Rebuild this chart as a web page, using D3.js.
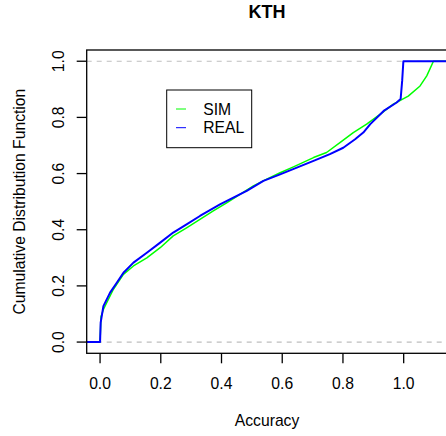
<!DOCTYPE html>
<html>
<head>
<meta charset="utf-8">
<script src="https://cdn.jsdelivr.net/npm/d3@7"></script>
<style>
  body { margin: 0; background: #fff; }
  svg text { font-family: "Liberation Sans", Arial, Helvetica, sans-serif; fill: #000; }
</style>
</head>
<body>
<svg id="chart" width="446" height="436"></svg>
<script>
// ECDF curves (accuracy, cumulative share)
const simX = [0, 0.003, 0.011, 0.044, 0.077, 0.11, 0.154, 0.198, 0.241, 0.285, 0.329, 0.373, 0.417, 0.461, 0.505, 0.549, 0.593, 0.637, 0.703, 0.746, 0.79, 0.834, 0.878, 0.922, 0.966, 1.015, 1.054, 1.076, 1.098];
const simY = [0, 0.09, 0.116, 0.188, 0.241, 0.271, 0.3, 0.336, 0.378, 0.407, 0.437, 0.467, 0.496, 0.526, 0.556, 0.58, 0.603, 0.624, 0.657, 0.675, 0.71, 0.746, 0.776, 0.811, 0.847, 0.876, 0.912, 0.948, 1.0];

const realX = [0, 0.002, 0.011, 0.033, 0.055, 0.077, 0.11, 0.154, 0.198, 0.241, 0.285, 0.329, 0.395, 0.439, 0.483, 0.538, 0.593, 0.648, 0.703, 0.757, 0.801, 0.84, 0.867, 0.89, 0.934, 0.977, 0.99, 0.995, 0.999];
const realY = [0, 0.069, 0.128, 0.176, 0.211, 0.247, 0.283, 0.318, 0.354, 0.39, 0.419, 0.449, 0.49, 0.514, 0.538, 0.574, 0.597, 0.621, 0.645, 0.669, 0.692, 0.722, 0.746, 0.776, 0.823, 0.853, 0.866, 0.93, 1.0];

const xTicks = [0, 0.2, 0.4, 0.6, 0.8, 1.0];
const yTicks = [0, 0.2, 0.4, 0.6, 0.8, 1.0];
const seriesNames = ["SIM", "REAL"];
const seriesColors = ["#00ff00", "#0000ff"];

const FONT = 15.7;
const box = { left: 86.7, right: 447.4, top: 50, bottom: 353.3 };

const svg = d3.select("#chart");

// R style: 4% padding around the data range
const xMin = 0, xMax = 1.1;
const xPad = (xMax - xMin) * 0.04;
const x = d3.scaleLinear().domain([xMin - xPad, xMax + xPad]).range([box.left, box.right]);
const y = d3.scaleLinear().domain([-0.04, 1.04]).range([box.bottom, box.top]);

svg.append("clipPath").attr("id", "plotclip")
  .append("rect")
  .attr("x", box.left).attr("y", box.top)
  .attr("width", box.right - box.left).attr("height", box.bottom - box.top);

const plot = svg.append("g").attr("clip-path", "url(#plotclip)");

// dashed reference lines at 0 and 1
plot.selectAll("line.ref")
  .data([0, 1])
  .join("line")
  .attr("class", "ref")
  .attr("x1", box.left).attr("x2", box.right)
  .attr("y1", d => y(d)).attr("y2", d => y(d))
  .attr("stroke", "#bebebe")
  .attr("stroke-width", 1.2)
  .attr("stroke-dasharray", "5,5");

const line = d3.line().x(d => x(d[0])).y(d => y(d[1]));

function makeSeries(xs, ys) {
  let pts = xs.map((v, i) => [v, ys[i]]);
  // flat tails out to the edges of the plot
  pts.unshift([x.domain()[0], 0]);
  pts.push([x.domain()[1], 1]);
  return pts;
}

const series = [
  { name: seriesNames[0], color: seriesColors[0], width: 1.5, pts: makeSeries(simX, simY) },
  { name: seriesNames[1], color: seriesColors[1], width: 2, pts: makeSeries(realX, realY) }
];

plot.selectAll("path.ecdf")
  .data(series)
  .join("path")
  .attr("class", "ecdf")
  .attr("d", d => line(d.pts))
  .attr("fill", "none")
  .attr("stroke", d => d.color)
  .attr("stroke-width", d => d.width)
  .attr("stroke-linejoin", "round");

// box
svg.append("rect")
  .attr("x", box.left).attr("y", box.top)
  .attr("width", box.right - box.left).attr("height", box.bottom - box.top)
  .attr("fill", "none").attr("stroke", "#000").attr("stroke-width", 1.3);

// x axis
const xAxis = svg.append("g");
xAxis.selectAll("line")
  .data(xTicks)
  .join("line")
  .attr("x1", d => x(d)).attr("x2", d => x(d))
  .attr("y1", box.bottom).attr("y2", box.bottom + 10)
  .attr("stroke", "#000").attr("stroke-width", 1.3);
xAxis.selectAll("text")
  .data(xTicks)
  .join("text")
  .attr("x", d => x(d)).attr("y", 389)
  .attr("text-anchor", "middle")
  .style("font-size", FONT + "px")
  .text(d => d3.format(".1f")(d));

// y axis
const yAxis = svg.append("g");
yAxis.selectAll("line")
  .data(yTicks)
  .join("line")
  .attr("x1", box.left - 10).attr("x2", box.left)
  .attr("y1", d => y(d)).attr("y2", d => y(d))
  .attr("stroke", "#000").attr("stroke-width", 1.3);
yAxis.selectAll("text")
  .data(yTicks)
  .join("text")
  .attr("transform", d => `translate(63.5, ${y(d)}) rotate(-90)`)
  .attr("text-anchor", "middle")
  .style("font-size", FONT + "px")
  .text(d => d3.format(".1f")(d));

// titles
svg.append("text")
  .attr("x", (box.left + box.right) / 2).attr("y", 18.3)
  .attr("text-anchor", "middle")
  .style("font-size", "18px").style("font-weight", "bold")
  .text("KTH");

svg.append("text")
  .attr("x", (box.left + box.right) / 2).attr("y", 426)
  .attr("text-anchor", "middle")
  .style("font-size", FONT + "px")
  .text("Accuracy");

svg.append("text")
  .attr("transform", `translate(25, ${(box.top + box.bottom) / 2}) rotate(-90)`)
  .attr("text-anchor", "middle")
  .style("font-size", FONT + "px")
  .text("Cumulative Distribution Function");

// legend
const legend = svg.append("g").attr("transform", "translate(166.7, 90)");
legend.append("rect")
  .attr("width", 85).attr("height", 57.7)
  .attr("fill", "#fff").attr("stroke", "#000").attr("stroke-width", 1);

const items = legend.selectAll("g.item")
  .data(series)
  .join("g")
  .attr("class", "item")
  .attr("transform", (d, i) => `translate(0, ${19 + i * 18.7})`);
items.append("line")
  .attr("x1", 9.3).attr("x2", 19.3)
  .attr("stroke", d => d.color).attr("stroke-width", 1);
items.append("text")
  .attr("x", 36.6).attr("y", 5.5)
  .style("font-size", FONT + "px")
  .text(d => d.name);
</script>
</body>
</html>
